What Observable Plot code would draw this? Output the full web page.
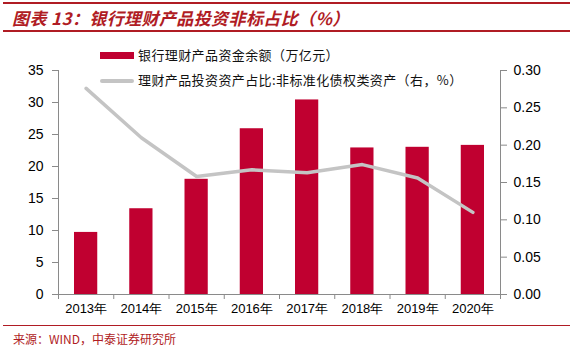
<!DOCTYPE html>
<html>
<head>
<meta charset="utf-8">
<script src="https://cdn.jsdelivr.net/npm/d3@7"></script>
<script src="https://cdn.jsdelivr.net/npm/@observablehq/plot@0.6"></script>
<style>
  html, body { margin: 0; padding: 0; background: #fff; }
  #page { position: relative; width: 573px; height: 350px; overflow: hidden; font-family: "Noto Sans CJK SC", sans-serif; }
  .rule { position: absolute; left: 3px; width: 567px; background: #b01c24; }
  #title { position: absolute; left: 12px; top: 6px; font-size: 17px; font-weight: bold; font-style: italic; color: #b01c24; line-height: 24px; white-space: nowrap; letter-spacing: 0.4px; }
  #chart { position: absolute; left: 0; top: 40px; }
  #legend { position: absolute; left: 100px; top: 45px; font-size: 13px; color: #111; letter-spacing: 0.4px; }
  .lrow { position: absolute; left: 0; white-space: nowrap; height: 20px; line-height: 20px; }
  .sw { position: absolute; left: 0; width: 34px; }
  .lrow span { position: absolute; left: 38px; top: 0; }
  #source { position: absolute; left: 13px; top: 330px; font-size: 12px; color: #b01c24; line-height: 18px; white-space: nowrap; }
</style>
</head>
<body>
<div id="page">
  <div class="rule" style="top:2px;height:2px"></div>
  <div id="title">图表 13：银行理财产品投资非标占比（%）</div>
  <div class="rule" style="top:30px;height:2px"></div>
  <div id="chart"></div>
  <div id="legend"></div>
  <div class="rule" style="top:325px;height:1px"></div>
  <div id="source">来源：WIND，中泰证券研究所</div>
</div>
<script>
const years = [2013, 2014, 2015, 2016, 2017, 2018, 2019, 2020];
const balance = [9.7, 13.4, 18.0, 25.9, 30.4, 22.9, 23.0, 23.3];      // 万亿元 (left)
const nonStdShare = [0.276, 0.210, 0.158, 0.167, 0.163, 0.174, 0.156, 0.110]; // right axis
const leftTicks = [0, 5, 10, 15, 20, 25, 30, 35];
const rightTicks = [0, 0.05, 0.10, 0.15, 0.20, 0.25, 0.30];
const seriesNames = ["银行理财产品资金余额（万亿元）", "理财产品投资资产占比:非标准化债权类资产（右，%）"];

const barColor = "#c00030";
const lineColor = "#c4c4c4";
const axisColor = "#8a8a8a";
const leftMax = 35, rightMax = 0.30;
const k = leftMax / rightMax;

const data = years.map((y, i) => ({year: y, bal: balance[i], share: nonStdShare[i]}));
const bounds = years.map(y => y - 0.5).concat([years[years.length - 1] + 0.5]);

const chart = Plot.plot({
  width: 573,
  height: 280,
  marginTop: 30,
  marginBottom: 26,
  marginLeft: 58,
  marginRight: 73,
  style: {fontFamily: "'Liberation Sans', Arial, sans-serif", fontSize: "14px", color: "#000", background: "#fff"},
  x: {type: "linear", domain: [years[0] - 0.5, years[years.length - 1] + 0.5], label: null},
  y: {domain: [0, leftMax], label: null},
  marks: [
    Plot.rectY(data, {x1: d => d.year - 0.5, x2: d => d.year + 0.5, y1: 0, y2: "bal", fill: barColor, insetLeft: 16, insetRight: 16}),
    Plot.line(data, {x: "year", y: d => d.share * k, stroke: lineColor, strokeWidth: 3.5}),
    Plot.ruleX([bounds[0]], {stroke: axisColor}),
    Plot.ruleX([bounds[bounds.length - 1]], {stroke: axisColor}),
    Plot.ruleY([0], {stroke: axisColor}),
    Plot.axisY({ticks: leftTicks, tickSize: 6, tickPadding: 9, stroke: axisColor, tickFormat: d => String(d), fontSize: 14, label: null}),
    Plot.axisY({anchor: "right", ticks: rightTicks.map(v => v * k), tickSize: 6, tickPadding: 7, stroke: axisColor, tickFormat: v => (v / k).toFixed(2), fontSize: 14, label: null}),
    Plot.axisX({ticks: bounds, tickSize: 5, tickFormat: () => "", stroke: axisColor, label: null}),
    Plot.axisX({ticks: years, tickSize: 0, tickPadding: 9, tickFormat: d => `${d}年`, fontSize: 13, label: null})
  ]
});
document.getElementById("chart").appendChild(chart);

const legend = document.getElementById("legend");
seriesNames.forEach((name, i) => {
  const row = document.createElement("div");
  row.className = "lrow";
  row.style.top = (i * 25) + "px";
  const sw = document.createElement("div");
  sw.className = "sw";
  if (i === 0) { sw.style.background = barColor; sw.style.top = "7px"; sw.style.height = "7px"; }
  else { sw.style.background = lineColor; sw.style.top = "9px"; sw.style.height = "4px"; sw.style.borderRadius = "2px"; }
  const t = document.createElement("span");
  t.textContent = name;
  row.appendChild(sw);
  row.appendChild(t);
  legend.appendChild(row);
});
</script>
</body>
</html>
